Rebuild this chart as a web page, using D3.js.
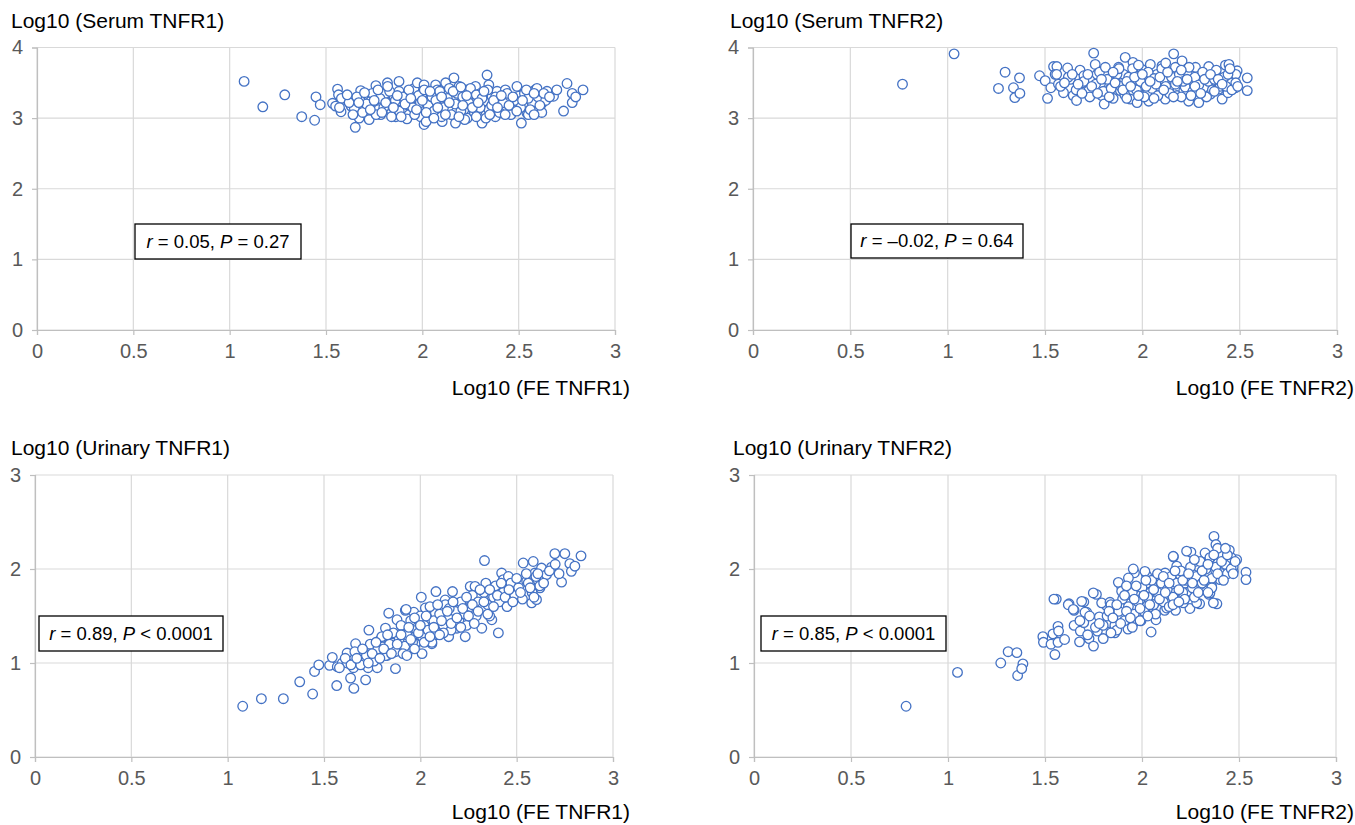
<!DOCTYPE html>
<html>
<head>
<meta charset="utf-8">
<script src="https://cdn.jsdelivr.net/npm/d3@7"></script>
<style>
  body { margin: 0; background: #fff; }
  text { font-family: "Liberation Sans", Arial, sans-serif; }
</style>
</head>
<body>
<svg id="chart" width="1355" height="825"></svg>
<script>
// x and y values, [FE, level]
const serum1 = [
  [1.075,3.52],[1.172,3.16],[1.286,3.33],[1.374,3.02],[1.441,2.97],[1.448,3.30],[1.470,3.19],
  [1.56,3.41],[1.565,3.33],[1.534,3.21],[1.55,3.17],[1.578,3.09],[1.60,3.26],[1.63,3.17],[1.652,2.87],
  [1.647,3.14],[1.68,3.39],[1.68,3.27],[1.672,3.00],[1.698,3.17],[1.715,3.33],[1.724,2.98],[1.733,3.24],
  [1.759,3.46],[1.759,3.26],[1.772,3.12],[1.784,3.05],[1.819,3.50],[1.81,3.35],[1.828,3.21],[1.836,3.12],
  [1.853,3.31],[1.862,3.02],[1.879,3.52],[1.879,3.38],[1.888,3.24],[1.897,3.12],[1.914,3.31],[1.922,3.19],
  [1.931,3.05],[1.957,3.42],[1.974,3.50],[1.966,3.28],[1.983,3.19],[1.991,3.02],[2.009,2.91],[2.00,3.35],
  [2.017,3.12],[2.009,3.47],[2.043,3.26],[2.069,3.47],[2.078,3.40],[2.069,3.21],[2.086,3.07],[2.103,2.95],
  [2.121,3.50],[2.129,3.35],[2.138,3.17],[2.164,3.57],[2.172,2.93],[2.172,3.28],[2.19,3.45],[2.207,3.24],
  [2.216,3.12],[2.224,3.40],[2.233,3.00],[2.25,3.31],[2.276,3.45],[2.267,3.21],[2.284,3.09],[2.302,3.35],
  [2.31,2.93],[2.319,3.24],[2.336,3.61],[2.345,3.47],[2.345,3.12],[2.362,3.31],[2.379,3.02],[2.388,3.38],
  [2.405,3.24],[2.414,3.12],[2.431,3.40],[2.448,3.28],[2.466,3.17],[2.491,3.45],[2.50,3.31],[2.514,2.93],
  [2.526,3.21],[2.543,3.07],[2.569,3.28],[2.586,3.40],[2.595,3.42],[2.603,3.12],[2.621,3.21],[2.647,3.38],
  [2.681,3.31],[2.698,3.40],[2.733,3.10],[2.751,3.49],[2.778,3.35],[2.778,3.22],[2.796,3.30],[2.834,3.40],
  [1.58,3.28],[1.62,3.22],[1.66,3.30],[1.69,3.08],[1.71,3.20],[1.74,3.35],[1.76,3.05],[1.78,3.28],
  [1.80,3.15],[1.83,3.38],[1.84,3.02],[1.86,3.25],[1.88,3.10],[1.90,3.30],[1.92,2.99],[1.93,3.40],
  [1.95,3.15],[1.96,3.05],[1.98,3.32],[1.99,3.22],[2.01,3.40],[2.02,2.95],[2.03,3.18],[2.05,3.30],
  [2.06,3.10],[2.07,3.25],[2.09,3.38],[2.10,3.02],[2.11,3.15],[2.13,3.28],[2.14,3.42],[2.15,3.05],
  [2.17,3.20],[2.18,3.35],[2.20,3.10],[2.21,3.30],[2.22,2.98],[2.24,3.22],[2.25,3.42],[2.27,3.08],
  [2.28,3.33],[2.30,3.15],[2.31,3.28],[2.33,3.00],[2.34,3.40],[2.36,3.18],[2.38,3.30],[2.40,3.08],
  [2.42,3.22],[2.44,3.35],[2.46,3.05],[2.48,3.25],[2.51,3.15],[2.53,3.35],[2.55,3.05],[2.57,3.22],
  [2.60,3.30],[2.62,3.08],[2.64,3.25],[2.55,3.28],
  [1.57,3.15],[1.61,3.33],[1.64,3.05],[1.67,3.22],[1.70,3.36],[1.73,3.12],[1.75,3.25],[1.77,3.40],
  [1.79,3.08],[1.81,3.22],[1.82,3.45],[1.85,3.15],[1.87,3.32],[1.89,3.02],[1.91,3.20],[1.94,3.28],
  [1.97,3.12],[2.00,3.25],[2.02,3.08],[2.04,3.38],[2.06,3.00],[2.08,3.15],[2.10,3.30],[2.12,3.05],
  [2.14,3.22],[2.16,3.38],[2.19,3.02],[2.21,3.18],[2.23,3.32],[2.26,3.15],[2.28,3.02],[2.29,3.22],
  [2.32,3.38],[2.35,3.05],[2.37,3.25],[2.39,3.15],[2.41,3.32],[2.43,3.05],[2.45,3.18],[2.47,3.30],
  [2.49,3.10],[2.52,3.25],[2.54,3.40],[2.56,3.12],[2.58,3.05],[2.61,3.18],[2.63,3.35],[2.66,3.30],
  [2.58,3.35],[2.20,3.44]
]

const serum2 = [
  [0.768,3.48],[1.033,3.91],[1.295,3.65],[1.261,3.42],[1.338,3.43],[1.369,3.57],[1.345,3.29],[1.371,3.35],
  [1.472,3.60],[1.513,3.28],[1.501,3.53],[1.544,3.73],[1.561,3.73],[1.53,3.43],[1.552,3.62],[1.569,3.48],
  [1.595,3.36],[1.616,3.71],[1.63,3.55],[1.645,3.32],[1.662,3.25],[1.68,3.68],[1.69,3.50],[1.70,3.60],
  [1.724,3.39],[1.75,3.92],[1.758,3.76],[1.767,3.62],[1.784,3.48],[1.792,3.32],[1.804,3.20],[1.818,3.62],
  [1.835,3.41],[1.844,3.29],[1.861,3.53],[1.878,3.72],[1.887,3.39],[1.904,3.62],[1.912,3.86],[1.93,3.48],
  [1.938,3.27],[1.952,3.79],[1.964,3.62],[1.973,3.22],[1.981,3.43],[1.998,3.69],[2.007,3.55],[2.024,3.34],
  [2.033,3.24],[2.041,3.76],[2.058,3.48],[2.075,3.62],[2.084,3.39],[2.101,3.74],[2.11,3.55],[2.118,3.27],
  [2.136,3.43],[2.144,3.62],[2.161,3.91],[2.17,3.72],[2.178,3.32],[2.196,3.53],[2.204,3.81],[2.213,3.39],
  [2.23,3.65],[2.238,3.24],[2.256,3.50],[2.273,3.72],[2.281,3.32],[2.29,3.22],[2.298,3.58],[2.316,3.43],
  [2.341,3.73],[2.35,3.34],[2.358,3.53],[2.376,3.62],[2.393,3.41],[2.41,3.27],[2.427,3.75],[2.445,3.76],
  [2.453,3.48],[2.47,3.58],[2.479,3.43],[2.487,3.67],[2.539,3.57],[2.539,3.39],
  [1.58,3.45],[1.62,3.58],[1.66,3.40],[1.70,3.52],[1.73,3.30],[1.76,3.48],[1.78,3.65],[1.80,3.38],
  [1.82,3.55],[1.85,3.28],[1.87,3.62],[1.89,3.45],[1.91,3.33],[1.93,3.58],[1.95,3.70],[1.97,3.40],
  [1.99,3.52],[2.01,3.30],[2.03,3.65],[2.05,3.42],[2.06,3.56],[2.08,3.32],[2.10,3.70],[2.12,3.45],
  [2.14,3.35],[2.15,3.58],[2.17,3.48],[2.19,3.62],[2.20,3.30],[2.22,3.44],[2.24,3.72],[2.26,3.38],
  [2.27,3.58],[2.29,3.47],[2.31,3.65],[2.33,3.30],[2.34,3.52],[2.36,3.40],[2.38,3.68],[2.40,3.45],
  [2.42,3.58],[2.44,3.36],[2.46,3.50],[2.48,3.62],[2.43,3.45],[2.37,3.55],[2.21,3.52],[2.07,3.48],
  [1.92,3.52],[1.84,3.42],
  [1.56,3.62],[1.60,3.50],[1.64,3.62],[1.67,3.48],[1.69,3.35],[1.72,3.62],[1.74,3.45],[1.77,3.35],
  [1.79,3.55],[1.81,3.72],[1.83,3.30],[1.86,3.50],[1.88,3.70],[1.90,3.40],[1.92,3.28],[1.94,3.45],
  [1.96,3.58],[1.98,3.32],[2.00,3.62],[2.02,3.45],[2.04,3.52],[2.06,3.28],[2.09,3.58],[2.11,3.40],
  [2.13,3.65],[2.16,3.30],[2.18,3.52],[2.20,3.68],[2.23,3.55],[2.25,3.32],[2.27,3.45],[2.30,3.35],
  [2.32,3.55],[2.35,3.62],[2.37,3.38],[2.39,3.55],[2.41,3.48],[2.44,3.62],[2.46,3.40],[2.48,3.50],
  [2.49,3.45],[2.45,3.70],[2.12,3.78],[1.98,3.75],[1.85,3.65]
]

const urine1 = [
  [1.078,0.54],[1.175,0.62],[1.289,0.62],[1.374,0.80],[1.441,0.67],[1.451,0.91],[1.473,0.98],
  [1.529,0.975],[1.543,1.06],[1.569,0.96],[1.566,0.76],[1.595,1.00],[1.62,1.106],[1.655,0.73],[1.638,0.84],
  [1.653,0.95],[1.664,1.205],[1.672,1.046],[1.716,0.82],[1.729,0.95],[1.733,1.35],[1.747,1.17],[1.776,0.95],
  [1.771,1.046],[1.793,1.248],[1.805,1.17],[1.836,1.53],[1.828,1.08],[1.819,1.37],[1.853,1.31],[1.871,0.94],
  [1.879,1.46],[1.888,1.135],[1.922,1.56],[1.914,1.24],[1.922,1.365],[1.94,1.135],[1.966,1.54],[1.974,1.205],
  [1.983,1.42],[2.005,1.70],[2.009,1.10],[2.017,1.31],[2.034,1.56],[2.043,1.42],[2.06,1.205],[2.078,1.505],
  [2.086,1.38],[1.926,1.57],[1.922,1.37],[1.957,1.28],[1.991,1.46],[2.026,1.585],[2.034,1.37],[2.052,1.23],
  [2.081,1.76],[2.078,1.53],[2.095,1.44],[2.129,1.67],[2.138,1.46],[2.147,1.28],[2.167,1.76],[2.181,1.62],
  [2.19,1.37],[2.198,1.515],[2.233,1.28],[2.259,1.815],[2.259,1.69],[2.259,1.46],[2.284,1.815],[2.302,1.585],
  [2.31,1.71],[2.319,1.37],[2.333,2.09],[2.34,1.85],[2.362,1.745],[2.353,1.57],[2.371,1.46],[2.405,1.32],
  [2.405,1.80],[2.422,1.957],[2.431,1.887],[2.431,1.674],[2.457,1.92],[2.457,1.78],[2.483,1.83],[2.491,1.69],
  [2.534,2.064],[2.552,1.87],[2.569,1.83],[2.578,1.64],[2.586,2.08],[2.595,1.957],[2.603,1.674],[2.621,1.80],
  [2.629,2.01],[2.655,1.94],[2.681,2.02],[2.698,2.163],[2.733,1.86],[2.75,2.163],[2.776,2.057],[2.784,1.975],
  [2.802,2.03],[2.834,2.14],
  [1.62,1.00],[1.66,1.12],[1.69,0.98],[1.72,1.08],[1.74,1.20],[1.76,1.02],[1.78,1.15],[1.80,1.28],
  [1.82,1.08],[1.84,1.20],[1.86,1.32],[1.87,1.12],[1.89,1.25],[1.90,1.40],[1.92,1.18],[1.93,1.30],
  [1.95,1.45],[1.96,1.22],[1.98,1.35],[2.00,1.50],[2.01,1.28],[2.02,1.40],[2.04,1.35],[2.05,1.60],
  [2.07,1.45],[2.08,1.30],[2.10,1.52],[2.12,1.40],[2.13,1.62],[2.15,1.48],[2.16,1.35],[2.18,1.55],
  [2.20,1.45],[2.21,1.65],[2.23,1.52],[2.24,1.40],[2.26,1.60],[2.27,1.72],[2.29,1.50],[2.30,1.65],
  [2.32,1.58],[2.33,1.75],[2.35,1.62],[2.36,1.50],[2.38,1.70],[2.39,1.82],[2.41,1.65],[2.43,1.75],
  [2.45,1.60],[2.47,1.85],[2.49,1.72],[2.51,1.80],[2.53,1.68],[2.56,1.85],[2.58,1.75],[2.60,1.92],
  [2.62,1.82],[2.15,1.58],[1.97,1.48],[2.06,1.22],
  [1.58,0.95],[1.61,1.05],[1.64,0.98],[1.67,1.05],[1.70,1.15],[1.73,1.00],[1.75,1.10],[1.77,1.22],
  [1.79,1.05],[1.81,1.15],[1.83,1.30],[1.85,1.10],[1.88,1.20],[1.90,1.30],[1.91,1.10],[1.94,1.38],
  [1.95,1.25],[1.97,1.15],[1.99,1.32],[2.00,1.40],[2.02,1.22],[2.03,1.50],[2.05,1.28],[2.07,1.38],
  [2.09,1.62],[2.11,1.45],[2.12,1.32],[2.14,1.55],[2.16,1.42],[2.17,1.65],[2.19,1.48],[2.21,1.38],
  [2.22,1.58],[2.24,1.70],[2.25,1.50],[2.27,1.62],[2.28,1.42],[2.30,1.55],[2.31,1.78],[2.33,1.65],
  [2.35,1.52],[2.36,1.78],[2.38,1.60],[2.40,1.72],[2.42,1.85],[2.44,1.70],[2.46,1.78],[2.48,1.65],
  [2.50,1.90],[2.52,1.75],[2.55,1.95],[2.57,1.80],[2.59,1.70],[2.61,1.95],[2.64,1.85],[2.67,1.98],
  [2.70,2.05],[2.72,1.95],[2.10,1.30],[1.93,1.08]
]

const urine2 = [
  [0.784,0.54],[1.049,0.90],[1.272,1.00],[1.31,1.12],[1.355,1.11],[1.359,0.867],[1.386,0.99],[1.38,0.94],
  [1.489,1.28],[1.492,1.22],[1.531,1.20],[1.541,1.31],[1.558,1.68],[1.551,1.09],[1.567,1.39],[1.57,1.34],
  [1.567,1.22],[1.601,1.25],[1.624,1.63],[1.65,1.56],[1.65,1.40],[1.682,1.34],[1.678,1.225],[1.70,1.65],
  [1.715,1.54],[1.70,1.43],[1.727,1.26],[1.75,1.18],[1.765,1.73],[1.77,1.34],[1.78,1.49],[1.80,1.26],
  [1.817,1.61],[1.828,1.43],[1.85,1.53],[1.86,1.32],[1.895,1.81],[1.918,1.56],[1.928,1.36],[1.957,1.43],
  [1.961,1.96],[1.984,1.72],[1.995,1.45],[2.024,1.93],[2.047,1.33],[2.051,1.60],[2.072,1.46],[2.095,1.90],
  [2.117,1.56],[2.162,2.13],[2.173,1.56],[2.218,1.81],[2.247,1.58],[2.252,2.18],[2.297,1.63],[2.346,1.73],
  [2.386,1.63],
  [1.546,1.68],[1.62,1.62],[1.646,1.57],[1.689,1.656],[1.706,1.54],[1.749,1.745],[1.792,1.64],[1.835,1.646],
  [1.878,1.858],[1.895,1.763],[1.887,1.60],[1.93,1.904],[1.938,1.727],[1.947,1.585],[1.955,2.00],[1.964,1.80],
  [1.99,1.674],[2.015,1.975],[2.024,1.85],[2.041,1.745],[2.058,1.62],[2.076,1.922],[2.093,1.80],[2.11,1.69],
  [2.119,1.957],[2.127,1.585],[2.153,1.87],[2.161,2.135],[2.17,1.745],[2.179,2.03],[2.196,1.94],[2.213,1.64],
  [2.222,1.85],[2.23,2.19],[2.247,1.763],[2.265,1.94],[2.273,2.08],[2.282,1.64],[2.299,1.833],[2.316,2.064],
  [2.325,2.17],[2.333,1.957],[2.35,1.745],[2.359,1.816],[2.368,1.64],[2.371,2.347],[2.381,2.26],[2.393,2.064],
  [2.402,1.887],[2.41,2.15],[2.428,1.993],[2.445,2.17],[2.462,2.10],[2.471,1.975],[2.488,2.10],[2.536,1.965],
  [2.536,1.887],
  [1.82,1.50],[1.84,1.62],[1.86,1.40],[1.88,1.55],[1.90,1.68],[1.91,1.45],[1.93,1.60],[1.95,1.75],
  [1.96,1.52],[1.98,1.65],[2.00,1.80],[2.01,1.55],[2.03,1.70],[2.05,1.88],[2.06,1.62],[2.08,1.75],
  [2.10,1.85],[2.11,1.65],[2.13,1.78],[2.15,1.92],[2.16,1.70],[2.18,1.85],[2.20,1.98],[2.21,1.75],
  [2.23,1.88],[2.25,2.02],[2.26,1.80],[2.28,1.92],[2.30,2.08],[2.31,1.85],[2.33,2.00],[2.35,2.12],
  [2.36,1.90],[2.38,2.02],[2.40,2.15],[2.41,1.95],[2.43,2.05],[2.44,1.95],[2.46,2.12],[2.47,2.02],
  [2.45,2.20],[2.39,2.22],[2.27,1.70],[2.14,1.60],[1.99,1.45],[1.87,1.35],[1.76,1.38],[1.72,1.30],
  [1.92,1.82],[2.08,1.95],
  [1.80,1.40],[1.83,1.55],[1.85,1.48],[1.87,1.62],[1.89,1.42],[1.91,1.72],[1.92,1.55],[1.94,1.48],
  [1.96,1.68],[1.97,1.82],[1.99,1.58],[2.01,1.72],[2.02,1.88],[2.04,1.62],[2.06,1.78],[2.07,1.52],
  [2.09,1.68],[2.11,1.92],[2.12,1.75],[2.14,1.85],[2.16,1.62],[2.17,1.98],[2.19,1.78],[2.21,1.88],
  [2.22,1.68],[2.24,1.95],[2.26,1.85],[2.27,2.10],[2.29,1.75],[2.31,1.98],[2.32,1.88],[2.34,2.05],
  [2.36,1.80],[2.37,2.15],[2.39,1.95],[2.41,2.08],[2.42,1.88],[2.44,2.15],[2.46,2.00],[2.48,2.08],
  [2.47,1.95],[2.43,2.22],[2.34,1.75],[2.19,1.65],[2.03,1.50],[1.95,1.38],[1.84,1.32],[1.78,1.42],
  [1.73,1.50],[1.68,1.45]
]

const xTicks = [0, 0.5, 1, 1.5, 2, 2.5, 3]
const yTicksSerum = [0, 1, 2, 3, 4]
const yTicksUrine = [0, 1, 2, 3]
const yTitles = ["Log10 (Serum TNFR1)", "Log10 (Serum TNFR2)", "Log10 (Urinary TNFR1)", "Log10 (Urinary TNFR2)"]
const xTitles = ["Log10 (FE TNFR1)", "Log10 (FE TNFR2)", "Log10 (FE TNFR1)", "Log10 (FE TNFR2)"]
const stats = [
  {r: "0.05", op: "=", p: "0.27"},
  {r: "\u20130.02", op: "=", p: "0.64"},
  {r: "0.89", op: "<", p: "0.0001"},
  {r: "0.85", op: "<", p: "0.0001"}
]

const svg = d3.select("#chart")
const grid = "#d9d9d9"
const blue = "#4472c4"

// pixel frames of the four plot areas
const panels = [
  {data: serum1, yTicks: yTicksSerum, x0: 37, x1: 615, yTop: 47.5, yBot: 330, titleX: 11, titleY: 28, xTitleX: 630, xTitleY: 395, box: [135, 224, 166, 35]},
  {data: serum2, yTicks: yTicksSerum, x0: 753, x1: 1337, yTop: 47.5, yBot: 330, titleX: 730, titleY: 28, xTitleX: 1354, xTitleY: 395, box: [851, 224, 172, 34]},
  {data: urine1, yTicks: yTicksUrine, x0: 35, x1: 613, yTop: 475, yBot: 757, titleX: 11, titleY: 455, xTitleX: 630, xTitleY: 819, box: [39, 616, 184, 35]},
  {data: urine2, yTicks: yTicksUrine, x0: 754, x1: 1336, yTop: 475, yBot: 757, titleX: 733, titleY: 455, xTitleX: 1354, xTitleY: 819, box: [761, 616, 185, 35]}
]

panels.forEach((p, i) => {
  let scX = d3.scaleLinear().domain([0, 3]).range([p.x0, p.x1])
  let scY = d3.scaleLinear().domain([0, d3.max(p.yTicks)]).range([p.yBot, p.yTop])
  let g = svg.append("g").attr("class", "panel" + i)

  // gridlines
  g.selectAll("line.gx").data(xTicks).enter().append("line")
    .attr("x1", d => scX(d)).attr("x2", d => scX(d))
    .attr("y1", p.yTop).attr("y2", p.yBot)
    .attr("stroke", grid).attr("stroke-width", 1.2)
  g.selectAll("line.gy").data(p.yTicks).enter().append("line")
    .attr("x1", p.x0).attr("x2", p.x1)
    .attr("y1", d => scY(d)).attr("y2", d => scY(d))
    .attr("stroke", grid).attr("stroke-width", 1.2)

  // axes
  let xAxis = g.append("g").attr("transform", `translate(0,${p.yBot})`)
    .call(d3.axisBottom(scX).tickValues(xTicks).tickSize(5).tickPadding(9).tickFormat(d3.format("")))
  let yAxis = g.append("g").attr("transform", `translate(${p.x0},0)`)
    .call(d3.axisLeft(scY).tickValues(p.yTicks).tickSize(5).tickPadding(9).tickFormat(d3.format("")))
  ;[xAxis, yAxis].forEach(a => {
    a.select(".domain").attr("stroke", "#bfbfbf").attr("stroke-width", 1.2)
    a.selectAll(".tick line").attr("stroke", "#bfbfbf").attr("stroke-width", 1.2)
    a.selectAll(".tick text").attr("fill", "#595959").attr("font-size", 20)
      .attr("font-family", "'Liberation Sans', Arial, sans-serif")
  })

  // points
  g.selectAll("circle").data(p.data).enter().append("circle")
    .attr("cx", d => scX(d[0])).attr("cy", d => scY(d[1]))
    .attr("r", 4.8)
    .attr("fill", "#fff").attr("stroke", blue).attr("stroke-width", 1.3)

  // titles
  g.append("text").attr("x", p.titleX).attr("y", p.titleY)
    .attr("font-size", 21).attr("fill", "#000").text(yTitles[i])
  g.append("text").attr("x", p.xTitleX).attr("y", p.xTitleY)
    .attr("text-anchor", "end").attr("font-size", 21).attr("fill", "#000").text(xTitles[i])

  // stats box
  let [bx, by, bw, bh] = p.box
  g.append("rect").attr("x", bx).attr("y", by).attr("width", bw).attr("height", bh)
    .attr("fill", "#fff").attr("stroke", "#000").attr("stroke-width", 1.3)
  let t = g.append("text").attr("x", bx + bw / 2).attr("y", by + bh / 2 + 6)
    .attr("text-anchor", "middle").attr("font-size", 18.5).attr("fill", "#000")
  t.append("tspan").attr("font-style", "italic").text("r")
  t.append("tspan").text(` = ${stats[i].r}, `)
  t.append("tspan").attr("font-style", "italic").text("P")
  t.append("tspan").text(` ${stats[i].op} ${stats[i].p}`)
})
</script>
</body>
</html>
